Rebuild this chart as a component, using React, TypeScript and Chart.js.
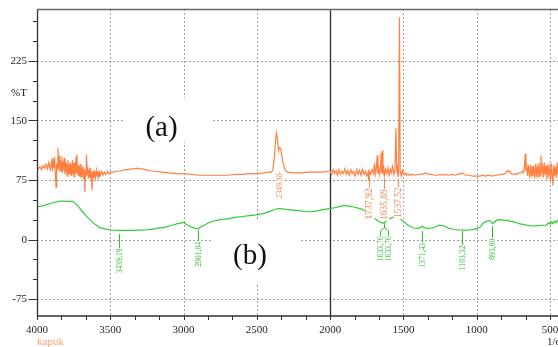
import React, { useEffect, useRef } from "react";
import { Chart, registerables } from "chart.js";

Chart.register(...registerables);

// ---- data (wavenumber 1/cm, %T) ----
const kapukSpectrum: [number, number][] = [
  [4000, 91], [3990, 89], [3980, 92], [3970, 88], [3960, 93], [3950, 90], [3940, 95], [3930, 89],
  [3920, 97], [3910, 88], [3900, 99], [3895, 86], [3890, 102], [3885, 90], [3880, 104], [3875, 84],
  [3870, 66], [3866, 96], [3862, 88], [3857, 115], [3853, 90], [3848, 106], [3844, 85], [3840, 100],
  [3835, 87], [3830, 104], [3826, 84], [3822, 98], [3818, 88], [3814, 103], [3810, 82], [3806, 99],
  [3802, 86], [3798, 96], [3794, 80], [3790, 100], [3786, 84], [3782, 95], [3778, 82], [3774, 97],
  [3770, 81], [3766, 94], [3762, 80], [3758, 100], [3754, 83], [3750, 96], [3746, 79], [3742, 98],
  [3738, 84], [3734, 104], [3730, 86], [3728, 107], [3724, 82], [3720, 94], [3716, 80], [3712, 92],
  [3708, 79], [3704, 95], [3700, 78], [3696, 90], [3692, 80], [3688, 93], [3684, 77], [3680, 89],
  [3676, 80], [3673, 60], [3670, 88], [3666, 79], [3662, 107], [3658, 82], [3654, 92], [3650, 78],
  [3646, 88], [3642, 79], [3638, 90], [3634, 77], [3630, 86], [3625, 62], [3621, 85], [3617, 78],
  [3613, 88], [3609, 79], [3605, 86], [3600, 78], [3595, 87], [3590, 80], [3585, 86], [3580, 79],
  [3575, 85], [3570, 80], [3560, 86], [3550, 81], [3540, 85], [3530, 82], [3520, 86], [3510, 83],
  [3500, 85], [3480, 85], [3460, 86], [3440, 86], [3420, 87], [3400, 88], [3380, 88], [3360, 89],
  [3340, 89], [3320, 90], [3300, 89], [3280, 89], [3260, 88], [3240, 87], [3200, 86], [3150, 85],
  [3100, 84], [3050, 83], [3000, 83], [2950, 82], [2900, 81], [2850, 81], [2800, 81], [2750, 81],
  [2700, 81], [2650, 82], [2600, 82], [2550, 83], [2500, 83], [2450, 84], [2420, 85], [2400, 85],
  [2390, 89], [2380, 105], [2372, 126], [2366, 134], [2360, 127], [2352, 112], [2345, 116], [2338, 115],
  [2330, 106], [2320, 96], [2310, 89], [2300, 86], [2290, 85], [2250, 84], [2200, 84], [2150, 85],
  [2100, 85], [2050, 85], [2020, 86], [2000, 86],
  [1990, 82], [1980, 88], [1970, 83], [1960, 87], [1950, 81], [1940, 88], [1930, 82], [1920, 86],
  [1910, 83], [1900, 89], [1890, 82], [1880, 87], [1870, 81], [1860, 88], [1850, 83], [1840, 86],
  [1830, 80], [1820, 88], [1810, 82], [1800, 87], [1790, 81], [1780, 89], [1770, 82], [1760, 86],
  [1750, 80], [1740, 85], [1737, 74], [1733, 86], [1725, 82], [1715, 88], [1705, 83], [1697, 96],
  [1692, 82], [1686, 88], [1679, 106], [1674, 83], [1668, 90], [1662, 82], [1656, 91], [1652, 109],
  [1648, 84], [1645, 112], [1640, 82], [1635, 94], [1630, 80], [1622, 88], [1614, 83], [1606, 90],
  [1598, 81], [1590, 89], [1582, 84], [1574, 92], [1566, 82], [1558, 88], [1551, 140], [1546, 84],
  [1540, 90], [1537, 80], [1533, 88], [1527, 280], [1522, 86], [1515, 80], [1508, 87], [1500, 82],
  [1490, 84], [1480, 81], [1470, 83], [1460, 81], [1440, 82], [1420, 81], [1400, 82], [1380, 82],
  [1360, 83], [1345, 84], [1330, 82], [1310, 82], [1290, 81], [1270, 81], [1250, 82], [1230, 81],
  [1210, 82], [1190, 81], [1170, 82], [1150, 81], [1130, 82], [1110, 83], [1098, 84], [1085, 82],
  [1070, 81], [1050, 81], [1030, 80], [1010, 80], [1000, 80], [980, 80], [960, 81], [940, 80],
  [920, 81], [900, 80], [880, 81], [860, 81], [840, 82], [825, 82], [810, 83], [800, 84],
  [790, 87], [780, 85], [773, 86], [765, 83], [750, 82], [740, 83], [727, 82], [715, 84],
  [700, 84], [690, 86], [682, 84], [675, 90], [669, 108], [664, 86], [658, 92], [652, 80],
  [646, 94], [640, 82], [634, 90], [628, 78], [622, 93], [616, 80], [610, 88], [604, 77],
  [598, 95], [592, 82], [586, 91], [580, 78], [574, 96], [568, 80], [562, 106], [557, 84],
  [551, 92], [545, 78], [539, 97], [533, 81], [527, 93], [521, 76], [515, 95], [509, 82],
  [503, 90], [497, 74], [491, 96], [485, 79], [480, 68], [475, 94], [469, 80], [463, 92],
  [457, 78], [451, 97], [445, 82], [439, 90], [433, 76], [427, 95], [421, 80], [415, 92],
  [409, 79], [403, 90], [400, 84],
];

const seriesBSpectrum: [number, number][] = [
  [4000, 41], [3950, 43], [3900, 46], [3850, 48], [3823, 48.5], [3790, 48], [3755, 48], [3720, 42],
  [3690, 35], [3650, 27], [3610, 20], [3571, 15], [3530, 13], [3500, 12], [3440, 11.5], [3400, 11.5],
  [3350, 11.5], [3300, 11.8], [3253, 12], [3200, 13.5], [3150, 15], [3117, 16], [3080, 18], [3040, 20],
  [3000, 21.5], [2980, 19], [2950, 16], [2920, 14], [2903, 13.5], [2880, 16], [2850, 19], [2820, 22],
  [2800, 23], [2750, 25], [2700, 26], [2650, 28], [2600, 29], [2550, 30], [2504, 31], [2450, 33],
  [2400, 36], [2358, 39], [2330, 38.5], [2300, 38], [2250, 37], [2200, 36], [2160, 35], [2120, 35],
  [2080, 36.5], [2040, 38], [2004, 39], [1970, 40], [1936, 41.5], [1902, 43], [1870, 42], [1840, 41],
  [1810, 39.5], [1779, 38], [1760, 36], [1737, 33], [1700, 27], [1664, 22], [1643, 21], [1633, 20.5],
  [1620, 23], [1600, 26], [1570, 28], [1549, 28.5], [1520, 26], [1490, 21], [1460, 17], [1430, 14.5],
  [1400, 14], [1380, 15.5], [1371, 17], [1360, 15], [1330, 14], [1300, 14.5], [1280, 16], [1255, 18],
  [1220, 17], [1190, 14], [1153, 12.6], [1120, 12], [1073, 11.7], [1030, 12.5], [994, 14], [975, 16],
  [960, 20], [940, 22.5], [914, 24], [900, 22], [893, 20], [880, 22], [858, 25], [820, 24.5],
  [780, 23.5], [740, 22], [710, 20], [670, 18.5], [619, 17], [580, 17.5], [550, 18], [528, 18],
  [520, 19], [510, 21], [500, 19.5], [490, 22], [480, 20], [470, 23], [460, 21], [450, 24],
  [440, 22], [430, 25], [420, 23], [410, 26], [400, 24],
];

const xTickValues = [4000, 3500, 3000, 2500, 2000, 1500, 1000, 500];
const xTickLabels = ["4000", "3500", "3000", "2500", "2000", "1500", "1000", "500"];
const xMinorStep = 500 / 3;
const yTickValues = [225, 150, 75, 0, -75];
const yTickLabels = ["225", "150", "75", "0", "-75"];
const yMinorStep = 25;

const orangePeakWn = [2349.38, 1737.92, 1635.69, 1537.52];
const orangePeakT = [85, 84, 84, 84];
const orangePeakLabels = ["2349,38", "1737,92", "1635,69", "1537,52"];

const greenPeakWn = [3439.19, 2901.04, 1633.76, 1633.76, 1371.43, 1103.32, 893.0];
const greenPeakT = [11.5, 13.5, 20.5, 20.5, 16, 12, 20];
const greenPeakLabels = ["3439,19", "2901,04", "1633,76", "1633,76", "1371,43", "1103,32", "893,00"];

// ---- styles ----
const ORANGE = "#ff8040";
const GREEN = "#33cc33";
const ORANGE_TEXT = "#f5875a";
const GREEN_TEXT = "#2cbf2c";
const SERIF = '"Liberation Serif", "Times New Roman", serif';
const CANVAS_W = 580;
const CANVAS_H = 347;
const orangeAnnStyle = [
  { gap: 0, len: 1, font: 7.6 },
  { gap: 4, len: 11, font: 9.6 },
  { gap: 6, len: 10, font: 9.4 },
  { gap: 6, len: 8, font: 9.4 },
];
const greenAnnStyle = [
  { gap: 3.5, len: 14, dx: 0 },
  { gap: 1.5, len: 11, dx: 0 },
  { gap: 0.5, len: 12, dx: -4 },
  { gap: 0.5, len: 12, dx: 4 },
  { gap: 4.5, len: 11, dx: 0 },
  { gap: 1, len: 14, dx: 0 },
  { gap: 2.5, len: 12, dx: 0 },
];

function drawVerticalLabel(
  ctx: CanvasRenderingContext2D,
  x: number,
  top: number,
  label: string,
  fontSize: number,
  color: string
) {
  ctx.font = `${fontSize}px ${SERIF}`;
  const w = ctx.measureText(label).width;
  ctx.fillStyle = "#ffffff";
  ctx.fillRect(x - fontSize * 0.5, top, fontSize * 1.0, w + 1);
  ctx.save();
  ctx.translate(x, top);
  ctx.rotate(-Math.PI / 2);
  ctx.textAlign = "right";
  ctx.textBaseline = "middle";
  ctx.fillStyle = color;
  ctx.fillText(label, 0, 0);
  ctx.restore();
}

const spectrumPlugin = {
  id: "spectrumDecor",
  beforeDatasetsDraw(chart: any) {
    const ctx: CanvasRenderingContext2D = chart.ctx;
    const { left, right, top, bottom } = chart.chartArea;
    const xs = chart.scales.x;
    const ys = chart.scales.y;
    ctx.save();
    // dotted grid
    ctx.strokeStyle = "#a0a0a0";
    ctx.lineWidth = 1;
    ctx.setLineDash([2, 2]);
    yTickValues.forEach((v) => {
      const y = Math.round(ys.getPixelForValue(v)) + 0.5;
      ctx.beginPath();
      ctx.moveTo(left, y);
      ctx.lineTo(right, y);
      ctx.stroke();
    });
    xTickValues.forEach((v) => {
      if (v === 2000 || v === 4000) return;
      const x = Math.round(xs.getPixelForValue(v)) + 0.5;
      ctx.beginPath();
      ctx.moveTo(x, top);
      ctx.lineTo(x, bottom);
      ctx.stroke();
    });
    ctx.setLineDash([]);
    // white boxes behind (a) and (b)
    ctx.fillStyle = "#ffffff";
    ctx.fillRect(125, 98, 88, 44);
    ctx.fillRect(212, 221, 88, 62);
    // solid line at 2000
    const x2000 = Math.round(xs.getPixelForValue(2000)) + 0.5;
    ctx.strokeStyle = "#2a2a2a";
    ctx.lineWidth = 1.3;
    ctx.beginPath();
    ctx.moveTo(x2000, top);
    ctx.lineTo(x2000, bottom);
    ctx.stroke();
    ctx.restore();
  },
  afterDatasetsDraw(chart: any) {
    const ctx: CanvasRenderingContext2D = chart.ctx;
    const { left, right, top, bottom } = chart.chartArea;
    const xs = chart.scales.x;
    const ys = chart.scales.y;
    ctx.save();

    // annotations - orange
    orangePeakWn.forEach((wn, i) => {
      const st = orangeAnnStyle[i];
      const x = Math.round(xs.getPixelForValue(wn)) + 0.5;
      const y0 = ys.getPixelForValue(orangePeakT[i]) + st.gap;
      ctx.strokeStyle = ORANGE_TEXT;
      ctx.lineWidth = 1;
      ctx.beginPath();
      ctx.moveTo(x, y0);
      ctx.lineTo(x, y0 + st.len);
      ctx.stroke();
      drawVerticalLabel(ctx, x, y0 + st.len + 0.5, orangePeakLabels[i], st.font, ORANGE_TEXT);
    });
    // annotations - green
    greenPeakWn.forEach((wn, i) => {
      const st = greenAnnStyle[i];
      const x = Math.round(xs.getPixelForValue(wn)) + 0.5;
      const y0 = ys.getPixelForValue(greenPeakT[i]) + st.gap;
      ctx.strokeStyle = GREEN_TEXT;
      ctx.lineWidth = 1;
      ctx.beginPath();
      if (st.dx !== 0) {
        ctx.moveTo(x, y0);
        ctx.lineTo(x, y0 + 4);
        ctx.lineTo(x + st.dx, y0 + 7);
        ctx.lineTo(x + st.dx, y0 + st.len);
      } else {
        ctx.moveTo(x, y0);
        ctx.lineTo(x, y0 + st.len);
      }
      ctx.stroke();
      drawVerticalLabel(ctx, x + st.dx, y0 + st.len + 0.5, greenPeakLabels[i], 7.7, GREEN_TEXT);
    });

    // axes frame
    ctx.strokeStyle = "#333333";
    ctx.lineWidth = 1.3;
    ctx.beginPath();
    ctx.moveTo(left + 0.5, top);
    ctx.lineTo(left + 0.5, bottom);
    ctx.lineTo(right, bottom);
    ctx.stroke();
    ctx.strokeStyle = "#6a6a6a";
    ctx.beginPath();
    ctx.moveTo(left, top + 0.5);
    ctx.lineTo(right, top + 0.5);
    ctx.stroke();

    // y ticks
    ctx.strokeStyle = "#333333";
    ctx.lineWidth = 1;
    for (let v = -75; v <= 290; v += yMinorStep) {
      const y = Math.round(ys.getPixelForValue(v)) + 0.5;
      const major = yTickValues.includes(v);
      ctx.beginPath();
      ctx.moveTo(left - (major ? 8.5 : 4), y);
      ctx.lineTo(left, y);
      ctx.stroke();
    }
    ctx.fillStyle = "#222222";
    ctx.font = `11px ${SERIF}`;
    ctx.textAlign = "right";
    ctx.textBaseline = "middle";
    yTickValues.forEach((v, i) => {
      ctx.fillText(yTickLabels[i], 27, ys.getPixelForValue(v) + 0.5);
    });

    // x ticks
    for (let k = 0; k <= 21; k++) {
      const v = 4000 - k * xMinorStep;
      if (v < xs.min) break;
      const x = Math.round(xs.getPixelForValue(v)) + 0.5;
      ctx.beginPath();
      ctx.moveTo(x, bottom);
      ctx.lineTo(x, bottom + 4);
      ctx.stroke();
    }
    ctx.textAlign = "center";
    ctx.textBaseline = "alphabetic";
    xTickValues.forEach((v, i) => {
      ctx.fillText(xTickLabels[i], xs.getPixelForValue(v), 333);
    });

    // axis titles
    ctx.textAlign = "left";
    ctx.fillText("%T", 11, 96);
    ctx.fillText("1/cm", 547, 345);
    ctx.fillStyle = "#f9a070";
    ctx.fillText("kapuk", 37, 345);

    // series labels
    ctx.fillStyle = "#111111";
    ctx.font = `29px ${SERIF}`;
    ctx.textAlign = "center";
    ctx.textBaseline = "alphabetic";
    ctx.fillText("(a)", 161.5, 136);
    ctx.fillText("(b)", 250, 264);

    ctx.restore();
  },
};

export default function App() {
  const canvasRef = useRef<HTMLCanvasElement | null>(null);

  useEffect(() => {
    if (!canvasRef.current) return;
    const x400 = 37 + (4000 - 400) * (513 / 3500);
    const chart = new Chart(canvasRef.current, {
      type: "line",
      data: {
        datasets: [
          {
            label: "(a)",
            data: kapukSpectrum.map(([x, y]) => ({ x, y })),
            borderColor: ORANGE,
            borderWidth: 1.2,
            pointRadius: 0,
            tension: 0,
            fill: false,
          },
          {
            label: "(b)",
            data: seriesBSpectrum.map(([x, y]) => ({ x, y })),
            borderColor: GREEN,
            borderWidth: 1.2,
            pointRadius: 0,
            tension: 0,
            fill: false,
          },
        ],
      },
      options: {
        responsive: false,
        animation: false,
        events: [],
        layout: {
          padding: { left: 37, top: 9, right: CANVAS_W - x400, bottom: CANVAS_H - 316 },
        },
        scales: {
          x: { type: "linear", min: 400, max: 4000, reverse: true, display: false },
          y: { type: "linear", min: -96.4, max: 290.5, display: false },
        },
        plugins: {
          legend: { display: false },
          tooltip: { enabled: false },
        },
      },
      plugins: [spectrumPlugin],
    });
    return () => chart.destroy();
  }, []);

  return (
    <div
      style={{
        position: "absolute",
        left: 0,
        top: 0,
        width: 558,
        height: 347,
        overflow: "hidden",
        background: "#ffffff",
      }}
    >
      <canvas ref={canvasRef} width={CANVAS_W} height={CANVAS_H} style={{ display: "block" }} />
    </div>
  );
}
